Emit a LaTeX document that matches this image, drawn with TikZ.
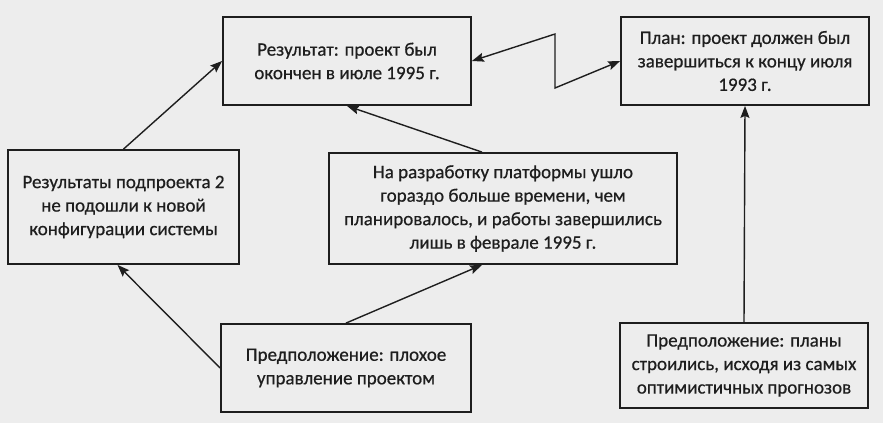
\documentclass[tikz,border=0pt]{standalone}
\usepackage{fontspec}
\setmainfont{Carlito}
\newfontfamily\boxfont{Carlito}[FakeBold=0.6]
\usetikzlibrary{arrows.meta, calc, positioning}
\definecolor{ink}{HTML}{1E1E1E}
\definecolor{paper}{HTML}{EDEDED}

\begin{document}
\begin{tikzpicture}[x=1pt, y=-1pt, >={Stealth[length=12pt, width=9pt, inset=2pt]},
  box/.style={draw=ink, line width=1.8pt, inner sep=0pt, align=center, text=ink,
    font=\boxfont\fontsize{19}{23.5}\selectfont},
  link/.style={->, draw=ink, line width=1.4pt}]

\fill[paper] (0,0) rectangle (883,423);
\useasboundingbox (0,0) rectangle (883,423);

\node[box, minimum width=248pt, minimum height=88pt] (res) at (347,61)
  {Результат: проект был\\окончен в июле 1995 г.};
\node[box, minimum width=248pt, minimum height=88pt] (plan) at (745,61)
  {План: проект должен был\\завершиться к концу июля\\1993 г.};
\node[box, minimum width=231pt, minimum height=114pt] (sub) at (123.5,207)
  {Результаты подпроекта 2\\не подошли к новой\\конфигурации системы};
\node[box, minimum width=348pt, minimum height=111pt] (plat) at (503,208.5)
  {На разработку платформы ушло\\гораздо больше времени, чем\\планировалось, и работы завершились\\лишь в феврале 1995 г.};
\node[box, minimum width=250pt, minimum height=88pt] (bad) at (346,368)
  {Предположение: плохое\\управление проектом};
\node[box, minimum width=248pt, minimum height=85pt] (optim) at (744,365.5)
  {Предположение: планы\\строились, исходя из самых\\оптимистичных прогнозов};

% arrows
\draw[link] (sub.north) -- (res.west);
\draw[link] ([xshift=-21pt]plat.north) -- (res.south);
\draw[link] (bad.west) -- ([xshift=-6pt]sub.south);
\draw[link] (bad.north) -- ([xshift=-21pt]plat.south);
\draw[link] (optim.north) -- (plan.south);

% zigzag between plan and result
\coordinate (zz1) at (555,34);
\coordinate (zz2) at (555,88);
\draw[link, <->] (res.east) -- (zz1) -- (zz2) -- (plan.west);

\end{tikzpicture}
\end{document}
